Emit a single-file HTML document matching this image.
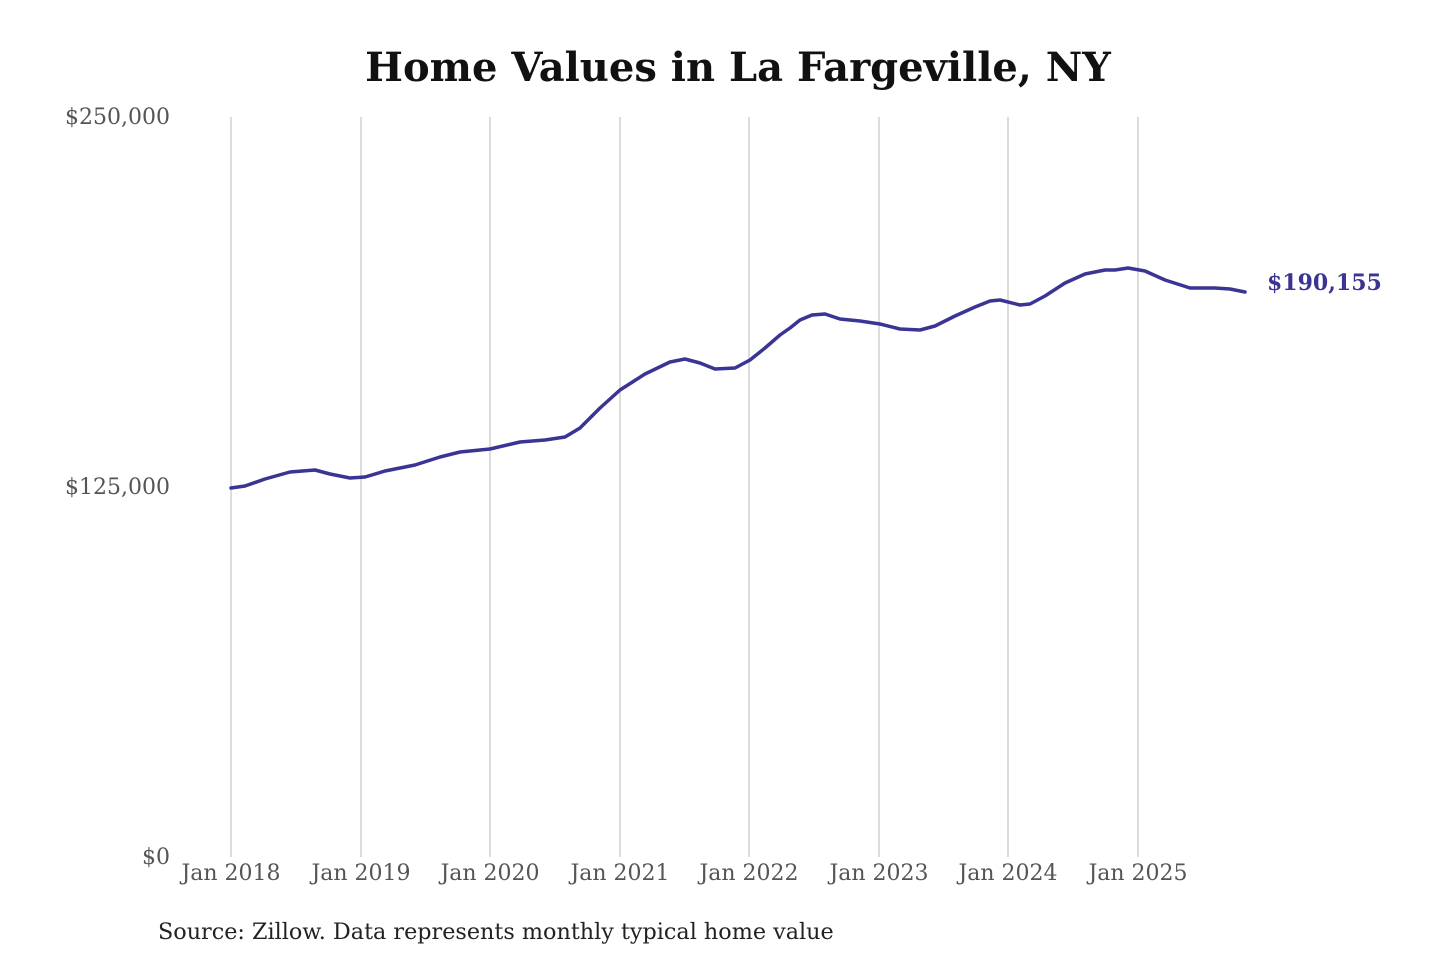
<!DOCTYPE html>
<html><head><meta charset="utf-8"><style>
body{margin:0;background:#fff;}
svg{display:block;}
</style></head><body>
<svg width="1440" height="960" xmlns="http://www.w3.org/2000/svg" font-family="'DejaVu Serif','Liberation Serif',serif">
<rect width="1440" height="960" fill="#fff"/>
<text x="738" y="81" text-anchor="middle" font-size="40" font-weight="bold" fill="#111">Home Values in La Fargeville, NY</text>
<g stroke="#c4c4c4" stroke-width="1.2">
<line x1="231" y1="117" x2="231" y2="857"/>
<line x1="361" y1="117" x2="361" y2="857"/>
<line x1="490" y1="117" x2="490" y2="857"/>
<line x1="620" y1="117" x2="620" y2="857"/>
<line x1="749" y1="117" x2="749" y2="857"/>
<line x1="879" y1="117" x2="879" y2="857"/>
<line x1="1008" y1="117" x2="1008" y2="857"/>
<line x1="1138" y1="117" x2="1138" y2="857"/>
</g>
<g font-size="22" fill="#555" text-anchor="end">
<text x="170" y="124">$250,000</text>
<text x="170" y="494">$125,000</text>
<text x="170" y="864">$0</text>
</g>
<g font-size="22" fill="#555" text-anchor="middle">
<text x="231" y="880">Jan 2018</text>
<text x="361" y="880">Jan 2019</text>
<text x="490" y="880">Jan 2020</text>
<text x="620" y="880">Jan 2021</text>
<text x="749" y="880">Jan 2022</text>
<text x="879" y="880">Jan 2023</text>
<text x="1008" y="880">Jan 2024</text>
<text x="1138" y="880">Jan 2025</text>
</g>
<polyline fill="none" stroke="#3a3494" stroke-width="3.5" stroke-linejoin="round" stroke-linecap="round" points="231,488 245,486 265,479 290,472 315,470 330,474 350,478 365,477 385,471 415,465 440,457 460,452 490,449 520,442 545,440 565,437 580,428 600,408 620,390 645,374 670,362 685,359 700,363 715,369 735,368 750,360 765,348 780,335 790,328 800,320 812,315 825,314 840,319 860,321 880,324 900,329 920,330 935,326 955,316 975,307 990,301 1000,300 1020,305 1030,304 1045,296 1065,283 1085,274 1105,270 1115,270 1128,268 1145,271 1165,280 1190,288 1215,288 1230,289 1245,292"/>
<text x="1267" y="290" font-size="22" font-weight="bold" fill="#3a3494">$190,155</text>
<text x="158" y="939" font-size="22.3" fill="#222">Source: Zillow. Data represents monthly typical home value</text>
</svg>
</body></html>
